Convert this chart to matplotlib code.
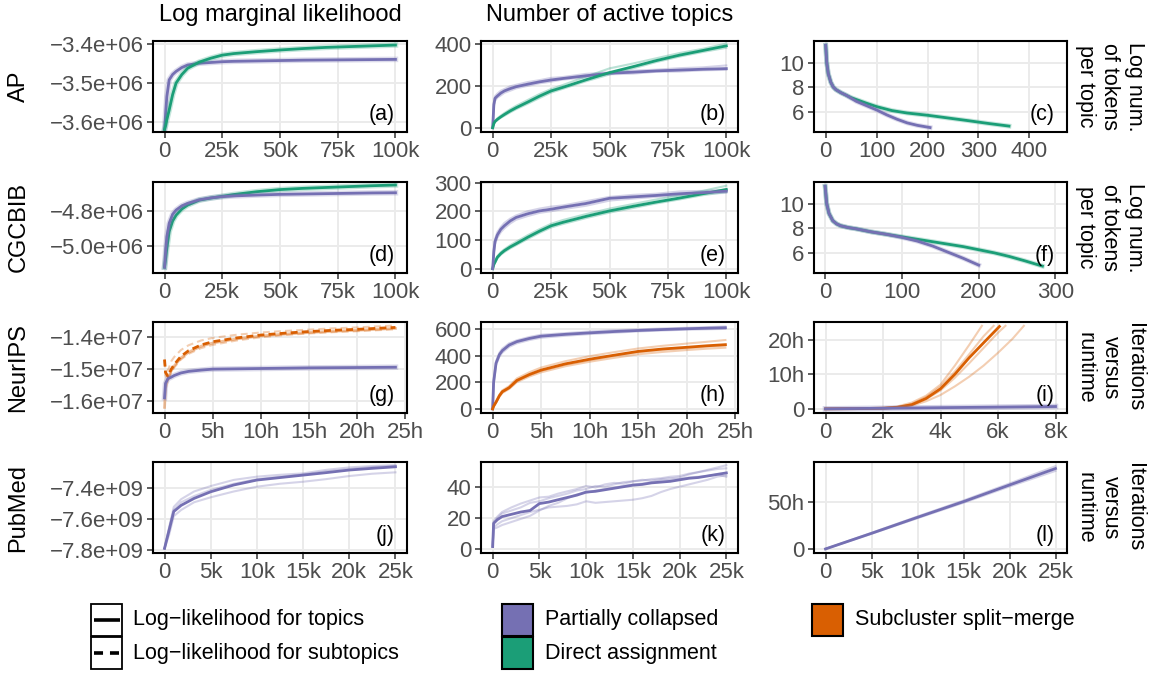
import matplotlib
matplotlib.use("Agg")
import matplotlib.pyplot as plt
from matplotlib.ticker import FuncFormatter, FixedLocator
from matplotlib.patches import Rectangle

plt.rcParams["font.family"] = ["Liberation Sans", "DejaVu Sans"]
plt.rcParams["lines.scale_dashes"] = False

PURPLE = "#7570b3"
GREEN = "#1b9e77"
ORANGE = "#d95f02"

# ---- data ----------------------------------------------------------------
X100K = [0, 500, 1000, 2000, 3500, 5000, 7500, 10000, 15000, 20000, 25000,
         30000, 40000, 50000, 60000, 70000, 80000, 90000, 100000]

# (a) AP log marginal likelihood
A_PC = [-3.620e6, -3.575e6, -3.535e6, -3.492e6, -3.478e6, -3.470e6, -3.460e6, -3.4535e6, -3.449e6,
        -3.447e6, -3.445e6, -3.444e6, -3.443e6, -3.442e6, -3.441e6, -3.4405e6, -3.440e6, -3.4395e6, -3.439e6]
A_DA = [-3.620e6, -3.610e6, -3.595e6, -3.570e6, -3.530e6, -3.500e6, -3.478e6, -3.462e6, -3.446e6,
        -3.436e6, -3.428e6, -3.424e6, -3.419e6, -3.4147e6, -3.411e6, -3.408e6, -3.406e6, -3.404e6, -3.402e6]

# (b) AP active topics
B_PC = [0, 110, 140, 151, 165, 175, 186, 195, 207, 218, 227, 234, 247, 259, 264, 270, 274, 278, 281]
B_PC_RUNS = [
    [0, 118, 150, 162, 176, 184, 197, 204, 217, 226, 237, 241, 256, 263, 271, 276, 283, 287, 296],
    [0, 100, 128, 143, 154, 166, 176, 187, 199, 211, 219, 229, 239, 254, 257, 266, 267, 273, 275],
]
B_DA = [0, 20, 30, 40, 52, 63, 80, 95, 122, 150, 175, 192, 228, 262, 290, 319, 345, 367, 389]
B_DA_RUNS = [
    [0, 22, 33, 45, 58, 70, 88, 104, 132, 160, 184, 203, 243, 282, 305, 330, 355, 375, 400],
    [0, 18, 27, 36, 48, 57, 73, 88, 114, 141, 167, 185, 221, 253, 282, 312, 338, 360, 380],
]

# (c) AP log number of tokens per topic, by topic rank
C_PC_X = [0, 2, 5, 10, 15, 20, 30, 40, 50, 60, 80, 100, 120, 140, 160, 180, 205]
C_PC = [11.4, 10.0, 9.1, 8.4, 8.0, 7.8, 7.55, 7.35, 7.1, 6.85, 6.5, 6.15, 5.75, 5.4, 5.1, 4.9, 4.72]
C_DA_X = [0, 2, 5, 10, 15, 20, 30, 40, 50, 60, 80, 100, 130, 160, 200, 240, 280, 320, 360]
C_DA = [11.4, 10.0, 9.1, 8.4, 8.0, 7.8, 7.55, 7.35, 7.15, 7.0, 6.7, 6.42, 6.1, 5.9, 5.72, 5.5, 5.28, 5.05, 4.84]

# (d) CGCBIB log marginal likelihood
D_PC = [-5.120e6, -5.020e6, -4.947e6, -4.871e6, -4.820e6, -4.796e6, -4.772e6, -4.758e6, -4.738e6,
        -4.727e6, -4.720e6, -4.716e6, -4.711e6, -4.707e6, -4.705e6, -4.703e6, -4.701e6, -4.699e6, -4.698e6]
D_DA = [-5.120e6, -5.070e6, -5.013e6, -4.918e6, -4.858e6, -4.825e6, -4.790e6, -4.768e6, -4.740e6,
        -4.728e6, -4.718e6, -4.708e6, -4.692e6, -4.680e6, -4.673e6, -4.668e6, -4.663e6, -4.658e6, -4.654e6]

# (e) CGCBIB active topics
E_PC = [0, 60, 95, 118, 138, 150, 167, 179, 192, 202, 208, 215, 228, 246, 251, 256, 262, 266, 271]
E_PC_RUNS = [
    [0, 68, 104, 128, 146, 160, 175, 186, 201, 210, 217, 221, 236, 251, 258, 262, 270, 272, 276],
    [0, 52, 86, 108, 128, 141, 158, 171, 184, 195, 201, 208, 220, 238, 245, 251, 256, 262, 265],
]
E_DA = [0, 15, 23, 40, 53, 63, 76, 87, 110, 131, 150, 162, 183, 202, 218, 233, 247, 262, 277]
E_DA_RUNS = [
    [0, 17, 26, 44, 58, 68, 82, 94, 117, 138, 157, 170, 191, 210, 226, 242, 256, 272, 290],
    [0, 13, 20, 36, 49, 58, 71, 82, 104, 125, 144, 156, 177, 196, 212, 228, 242, 257, 268],
]

# (f) CGCBIB log number of tokens per topic
F_PC_X = [0, 2, 5, 10, 15, 20, 30, 40, 60, 80, 100, 120, 140, 160, 180, 200]
F_PC = [11.4, 10.0, 9.2, 8.6, 8.35, 8.2, 8.05, 7.95, 7.7, 7.5, 7.25, 6.95, 6.55, 6.05, 5.55, 5.0]
F_DA_X = [0, 2, 5, 10, 15, 20, 30, 40, 60, 80, 100, 120, 140, 160, 180, 200, 220, 240, 260, 283]
F_DA = [11.4, 10.0, 9.2, 8.6, 8.35, 8.2, 8.05, 7.95, 7.7, 7.5, 7.3, 7.1, 6.9, 6.7, 6.5, 6.25, 6.0, 5.7, 5.35, 4.92]

# (g) NeurIPS log marginal likelihood, runtime in hours
XH = [0, 0.1, 0.35, 0.7, 1, 1.7, 2.5, 3.8, 5, 7.5, 10, 12.5, 15, 17.5, 20, 22, 24]
G_PC = [-1.590e7, -1.545e7, -1.530e7, -1.525e7, -1.520e7, -1.512e7, -1.507e7, -1.503e7, -1.500e7,
        -1.499e7, -1.498e7, -1.497e7, -1.496e7, -1.4955e7, -1.495e7, -1.4945e7, -1.494e7]
G_SM_TOPICS = [-1.620e7, -1.560e7, -1.530e7, -1.505e7, -1.490e7, -1.465e7, -1.447e7, -1.428e7, -1.418e7,
               -1.405e7, -1.396e7, -1.390e7, -1.385e7, -1.381e7, -1.378e7, -1.375e7, -1.372e7]
G_SM_SUB = [-1.470e7, -1.510e7, -1.523e7, -1.500e7, -1.486e7, -1.460e7, -1.442e7, -1.424e7, -1.414e7,
            -1.402e7, -1.393e7, -1.387e7, -1.382e7, -1.378e7, -1.375e7, -1.372e7, -1.369e7]
G_SM_SUB_RUNS = [
    [-1.470e7, -1.500e7, -1.505e7, -1.475e7, -1.462e7, -1.440e7, -1.425e7, -1.410e7, -1.402e7,
     -1.392e7, -1.385e7, -1.380e7, -1.376e7, -1.372e7, -1.369e7, -1.366e7, -1.363e7],
    [-1.470e7, -1.520e7, -1.535e7, -1.510e7, -1.495e7, -1.470e7, -1.452e7, -1.434e7, -1.424e7,
     -1.410e7, -1.400e7, -1.393e7, -1.388e7, -1.384e7, -1.381e7, -1.378e7, -1.375e7],
]

# (h) NeurIPS active topics
H_PC = [0, 200, 345, 410, 440, 482, 508, 532, 549, 563, 574, 584, 592, 599, 605, 609, 613]
H_PC_RUNS = [
    [0, 215, 360, 425, 455, 495, 518, 543, 560, 572, 584, 594, 600, 607, 612, 617, 622],
    [0, 185, 330, 395, 425, 468, 495, 520, 537, 552, 565, 575, 585, 592, 598, 601, 604],
]
H_SM = [0, 20, 51, 100, 130, 160, 215, 260, 293, 340, 375, 405, 434, 452, 465, 476, 485]
H_SM_RUNS = [
    [0, 22, 56, 108, 140, 172, 230, 277, 312, 360, 398, 428, 456, 476, 493, 506, 520],
    [0, 18, 46, 92, 120, 150, 202, 245, 276, 322, 356, 385, 412, 430, 444, 454, 462],
    [0, 20, 50, 98, 127, 157, 211, 255, 288, 334, 368, 400, 428, 446, 458, 470, 478],
]

# (i) NeurIPS iterations vs runtime (hours)
I_SM_X = [0, 1000, 2000, 2500, 3000, 3500, 4000, 4500, 5000, 5500, 6050]
I_SM = [0, 0.05, 0.2, 0.45, 1.2, 3.0, 5.8, 10.0, 14.8, 19.1, 23.8]
I_SM_RUNS = [
    ([0, 2000, 2500, 3000, 3500, 4000, 4500, 5000, 5440],
     [0, 0.2, 0.7, 1.8, 3.8, 7.0, 12.5, 18.5, 24.0]),
    ([0, 2000, 2500, 3000, 3500, 4000, 4500, 5000, 5500, 5850],
     [0, 0.2, 0.5, 1.4, 3.4, 6.4, 10.8, 15.8, 21.0, 24.0]),
    ([0, 2000, 2500, 3000, 3500, 4000, 4500, 5000, 5500, 6000, 6260],
     [0, 0.2, 0.45, 1.1, 2.8, 5.3, 9.0, 13.2, 17.6, 22.0, 24.0]),
    ([0, 2000, 2500, 3000, 3500, 4000, 4500, 5000, 5500, 6000, 6500, 6900],
     [0, 0.15, 0.4, 0.9, 2.2, 4.0, 6.5, 9.3, 12.5, 16.2, 20.2, 24.0]),
]
I_PC_X = [0, 2000, 4000, 6000, 8000]
I_PC = [0, 0.17, 0.34, 0.5, 0.67]

# (j) PubMed log marginal likelihood
XP = [0, 500, 1000, 1800, 3200, 5000, 7500, 10000, 12500, 15000, 17500, 20000, 22500, 25000]
J_PC = [-7.789e9, -7.670e9, -7.550e9, -7.510e9, -7.465e9, -7.422e9, -7.378e9, -7.346e9, -7.330e9,
        -7.314e9, -7.298e9, -7.281e9, -7.270e9, -7.260e9]
J_PC_RUNS = [
    [-7.789e9, -7.700e9, -7.580e9, -7.540e9, -7.490e9, -7.458e9, -7.420e9, -7.389e9, -7.370e9,
     -7.357e9, -7.340e9, -7.320e9, -7.305e9, -7.296e9],
    [-7.789e9, -7.650e9, -7.520e9, -7.470e9, -7.420e9, -7.385e9, -7.345e9, -7.324e9, -7.312e9,
     -7.303e9, -7.280e9, -7.264e9, -7.255e9, -7.249e9],
    [-7.789e9, -7.660e9, -7.540e9, -7.490e9, -7.450e9, -7.410e9, -7.370e9, -7.340e9, -7.325e9,
     -7.310e9, -7.290e9, -7.275e9, -7.262e9, -7.255e9],
]

# (k) PubMed active topics
XK = [0, 100, 500, 1000, 2000, 3000, 4000, 5000, 6000, 7000, 8000, 9000, 10000, 11000,
      12000, 13000, 14000, 15000, 16000, 17000, 18000, 19000, 20000, 21000, 22000, 23000, 24000, 25000]
K_PC = [1.5, 16.6, 19, 21, 22.5, 24, 25, 29.5, 30.5, 32, 33.5, 35, 37, 37.5,
        38.5, 39.5, 40.5, 41.5, 42, 43, 43.5, 44, 45, 46, 46.5, 47.5, 48.5, 49.5]
K_PC_RUNS = [
    [1.5, 14, 16, 18, 20, 22, 24, 25.5, 27, 27.5, 28, 29, 31, 30, 30.5, 31, 31.5, 32, 33,
     34.5, 37, 39, 40.5, 42, 43.5, 45, 47, 48],
    [1.5, 18, 21, 24, 27, 29.5, 31.5, 33.5, 34, 36, 37.5, 39, 41, 40, 42, 43, 42.5, 44, 45,
     44.5, 45.5, 46, 46.5, 48.5, 50, 51.5, 53, 54.5],
    [1.5, 13, 14, 15.5, 17.5, 19.5, 21.5, 25, 28, 30, 33, 35.5, 36.5, 38, 39, 40, 41, 42,
     42.5, 43.5, 44.5, 45, 45.5, 46.5, 47, 47.5, 48.5, 47],
    [1.5, 17, 20, 23, 25, 27, 30, 31, 33, 34.5, 36, 38, 39, 41, 40.5, 42, 43.5, 44, 44.5,
     45.5, 46, 47, 47.5, 49, 50, 51, 52, 52.5],
]

# (l) PubMed iterations vs runtime (hours)
XL = [0, 5000, 10000, 15000, 20000, 25000]
L_PC = [0, 16.5, 33.4, 50, 67.6, 85]
L_PC_RUNS = [
    [0, 16, 32.5, 48.8, 66, 82.5],
    [0, 17, 34.3, 51.2, 69.2, 87.5],
]

ROW_NAMES = ["AP", "CGCBIB", "NeurIPS", "PubMed"]
COL_TITLES = ["Log marginal likelihood", "Number of active topics"]
STRIP_RIGHT = ["Log num.\nof tokens\nper topic", "Log num.\nof tokens\nper topic",
               "Iterations\nversus\nruntime", "Iterations\nversus\nruntime"]

# ---- layout (pixels) -----------------------------------------------------
W, H = 1153, 675
COLS = [(153, 407), (481, 738), (814, 1067)]
ROWS = [(41, 132), (182, 273), (322, 413), (462, 553)]

fig = plt.figure(figsize=(W / 100, H / 100), dpi=100)

MINUS = "\u2212"
sci_fmt = FuncFormatter(lambda v, p: f"{v:.1e}".replace("-", MINUS))
k_fmt = FuncFormatter(lambda v, p: "0" if v == 0 else f"{v / 1000:g}k")
h_fmt = FuncFormatter(lambda v, p: "0" if v == 0 else f"{v:g}h")
g_fmt = FuncFormatter(lambda v, p: f"{v:g}")


def panel(r, c, label, xlim, ylim, xticks, yticks, xfmt, yfmt):
    x0, x1 = COLS[c]
    y0, y1 = ROWS[r]
    ax = fig.add_axes([x0 / W, 1 - y1 / H, (x1 - x0) / W, (y1 - y0) / H])
    ax.set_xlim(*xlim)
    ax.set_ylim(*ylim)
    ax.xaxis.set_major_locator(FixedLocator(xticks))
    ax.yaxis.set_major_locator(FixedLocator(yticks))
    ax.xaxis.set_major_formatter(xfmt)
    ax.yaxis.set_major_formatter(yfmt)
    ax.grid(True, color="#ebebeb", lw=1.4)
    ax.set_axisbelow(True)
    for s in ax.spines.values():
        s.set_linewidth(1.5)
        s.set_color("black")
    ax.tick_params(length=4.3, width=1.1, color="#333333", labelcolor="#4d4d4d",
                   labelsize=16, pad=2.5)
    ax.annotate(label, xy=(1, 0), xycoords="axes fraction", xytext=(-9, 5),
                textcoords="offset points", ha="right", va="bottom", fontsize=15.5)
    return ax


def faint(ax, x, y, color, ls="-"):
    ax.plot(x, y, color=color, lw=1.5, alpha=0.3, ls=ls)


def main(ax, x, y, color, ls="-"):
    ax.plot(x, y, color=color, lw=2.0, ls=ls)


KT = [0, 25000, 50000, 75000, 100000]
HT = [0, 5, 10, 15, 20, 25]
PT = [0, 5000, 10000, 15000, 20000, 25000]

# row 1: AP
ax = panel(0, 0, "(a)", (-5000, 105000), (-3.6266e6, -3.3915e6), KT, [-3.6e6, -3.5e6, -3.4e6], k_fmt, sci_fmt)
ax.plot(X100K, A_PC, color=PURPLE, lw=4, alpha=0.25)
main(ax, X100K, A_PC, PURPLE)
ax.plot(X100K, A_DA, color=GREEN, lw=4, alpha=0.25)
main(ax, X100K, A_DA, GREEN)

ax = panel(0, 1, "(b)", (-5000, 105000), (-20, 412), KT, [0, 200, 400], k_fmt, g_fmt)
for run in B_PC_RUNS:
    faint(ax, X100K, run, PURPLE)
for run in B_DA_RUNS:
    faint(ax, X100K, run, GREEN)
main(ax, X100K, B_PC, PURPLE)
main(ax, X100K, B_DA, GREEN)

ax = panel(0, 2, "(c)", (-23, 474), (4.36, 11.75), [0, 100, 200, 300, 400], [6, 8, 10], g_fmt, g_fmt)
ax.plot(C_DA_X, C_DA, color=GREEN, lw=3.5, alpha=0.25)
main(ax, C_DA_X, C_DA, GREEN)
ax.plot(C_PC_X, C_PC, color=PURPLE, lw=3.5, alpha=0.25)
main(ax, C_PC_X, C_PC, PURPLE)

# row 2: CGCBIB
ax = panel(1, 0, "(d)", (-5000, 105000), (-5.153e6, -4.637e6), KT, [-5.0e6, -4.8e6], k_fmt, sci_fmt)
ax.plot(X100K, D_DA, color=GREEN, lw=4, alpha=0.25)
main(ax, X100K, D_DA, GREEN)
ax.plot(X100K, D_PC, color=PURPLE, lw=4, alpha=0.25)
main(ax, X100K, D_PC, PURPLE)

ax = panel(1, 1, "(e)", (-5000, 105000), (-15, 303), KT, [0, 100, 200, 300], k_fmt, g_fmt)
for run in E_PC_RUNS:
    faint(ax, X100K, run, PURPLE)
for run in E_DA_RUNS:
    faint(ax, X100K, run, GREEN)
main(ax, X100K, E_DA, GREEN)
main(ax, X100K, E_PC, PURPLE)

ax = panel(1, 2, "(f)", (-14.5, 315), (4.36, 11.75), [0, 100, 200, 300], [6, 8, 10], g_fmt, g_fmt)
ax.plot(F_DA_X, F_DA, color=GREEN, lw=3.5, alpha=0.25)
main(ax, F_DA_X, F_DA, GREEN)
ax.plot(F_PC_X, F_PC, color=PURPLE, lw=3.5, alpha=0.25)
main(ax, F_PC_X, F_PC, PURPLE)

# row 3: NeurIPS
DASH = (0, (5, 3))
ax = panel(2, 0, "(g)", (-1.2, 25.2), (-1.6377e7, -1.352e7), HT, [-1.6e7, -1.5e7, -1.4e7], h_fmt, sci_fmt)
for run in G_SM_SUB_RUNS:
    faint(ax, XH, run, ORANGE, DASH)
ax.plot(XH, G_SM_TOPICS, color=ORANGE, lw=2.0, alpha=0.4)
main(ax, XH, G_SM_SUB, ORANGE, DASH)
ax.plot(XH, G_PC, color=PURPLE, lw=4, alpha=0.25)
main(ax, XH, G_PC, PURPLE)

ax = panel(2, 1, "(h)", (-1.2, 25.3), (-31, 656), HT, [0, 200, 400, 600], h_fmt, g_fmt)
for run in H_PC_RUNS:
    faint(ax, XH, run, PURPLE)
for run in H_SM_RUNS:
    faint(ax, XH, run, ORANGE)
main(ax, XH, H_PC, PURPLE)
main(ax, XH, H_SM, ORANGE)

ax = panel(2, 2, "(i)", (-400, 8400), (-1.2, 25.1), [0, 2000, 4000, 6000, 8000], [0, 10, 20], k_fmt, h_fmt)
for rx, ry in I_SM_RUNS:
    faint(ax, rx, ry, ORANGE)
main(ax, I_SM_X, I_SM, ORANGE)
ax.plot(I_PC_X, I_PC, color=PURPLE, lw=4, alpha=0.3)
main(ax, I_PC_X, I_PC, PURPLE)

# row 4: PubMed
ax = panel(3, 0, "(j)", (-1250, 26250), (-7.819e9, -7.229e9), PT, [-7.8e9, -7.6e9, -7.4e9], k_fmt, sci_fmt)
for run in J_PC_RUNS:
    faint(ax, XP, run, PURPLE)
main(ax, XP, J_PC, PURPLE)

ax = panel(3, 1, "(k)", (-1250, 26250), (-2.7, 56.6), PT, [0, 20, 40], k_fmt, g_fmt)
for run in K_PC_RUNS:
    faint(ax, XK, run, PURPLE)
main(ax, XK, K_PC, PURPLE)

ax = panel(3, 2, "(l)", (-1250, 26250), (-4.3, 91.9), PT, [0, 50], k_fmt, h_fmt)
for run in L_PC_RUNS:
    faint(ax, XL, run, PURPLE)
main(ax, XL, L_PC, PURPLE)

# ---- labels ----------------------------------------------------------------
for (c0, c1), title in zip(COLS, COL_TITLES):
    fig.text((c0 + c1) / 2 / W, 1 - 15 / H, title, ha="center", va="center", fontsize=17)
for (r0, r1), name, strip in zip(ROWS, ROW_NAMES, STRIP_RIGHT):
    yc = 1 - (r0 + r1) / 2 / H
    fig.text(18.5 / W, yc, name, rotation=90, ha="center", va="center", fontsize=17)
    fig.text(1110 / W, yc, strip, rotation=270, ha="center", va="center",
             fontsize=15.5, linespacing=1.22, multialignment="center")

# ---- legend ----------------------------------------------------------------
lg = fig.add_axes([0, 0, 1, 1], facecolor="none")
lg.set_xlim(0, W)
lg.set_ylim(H, 0)
lg.axis("off")
line_keys = [("-", "Log\u2212likelihood for topics"), ((0, (6.5, 5)), "Log\u2212likelihood for subtopics")]
for i, (ls, lab) in enumerate(line_keys):
    top = 604 + 33 * i
    lg.add_patch(Rectangle((91, top), 31, 32, fill=False, ec="black", lw=1.3))
    lg.plot([94, 120], [top + 16, top + 16], color="black", lw=2.6, ls=ls, solid_capstyle="butt")
    lg.text(133, top + 16, lab, va="center", fontsize=15.5)
fill_keys = [(502, 545, 0, PURPLE, "Partially collapsed"),
             (502, 545, 1, GREEN, "Direct assignment"),
             (812, 855, 0, ORANGE, "Subcluster split\u2212merge")]
for kx, tx, i, col, lab in fill_keys:
    top = 604 + 33 * i
    lg.add_patch(Rectangle((kx, top), 31, 32, fc=col, ec="black", lw=1.5))
    lg.text(tx, top + 16, lab, va="center", fontsize=15.5)

fig.savefig("out.png", dpi=100)
